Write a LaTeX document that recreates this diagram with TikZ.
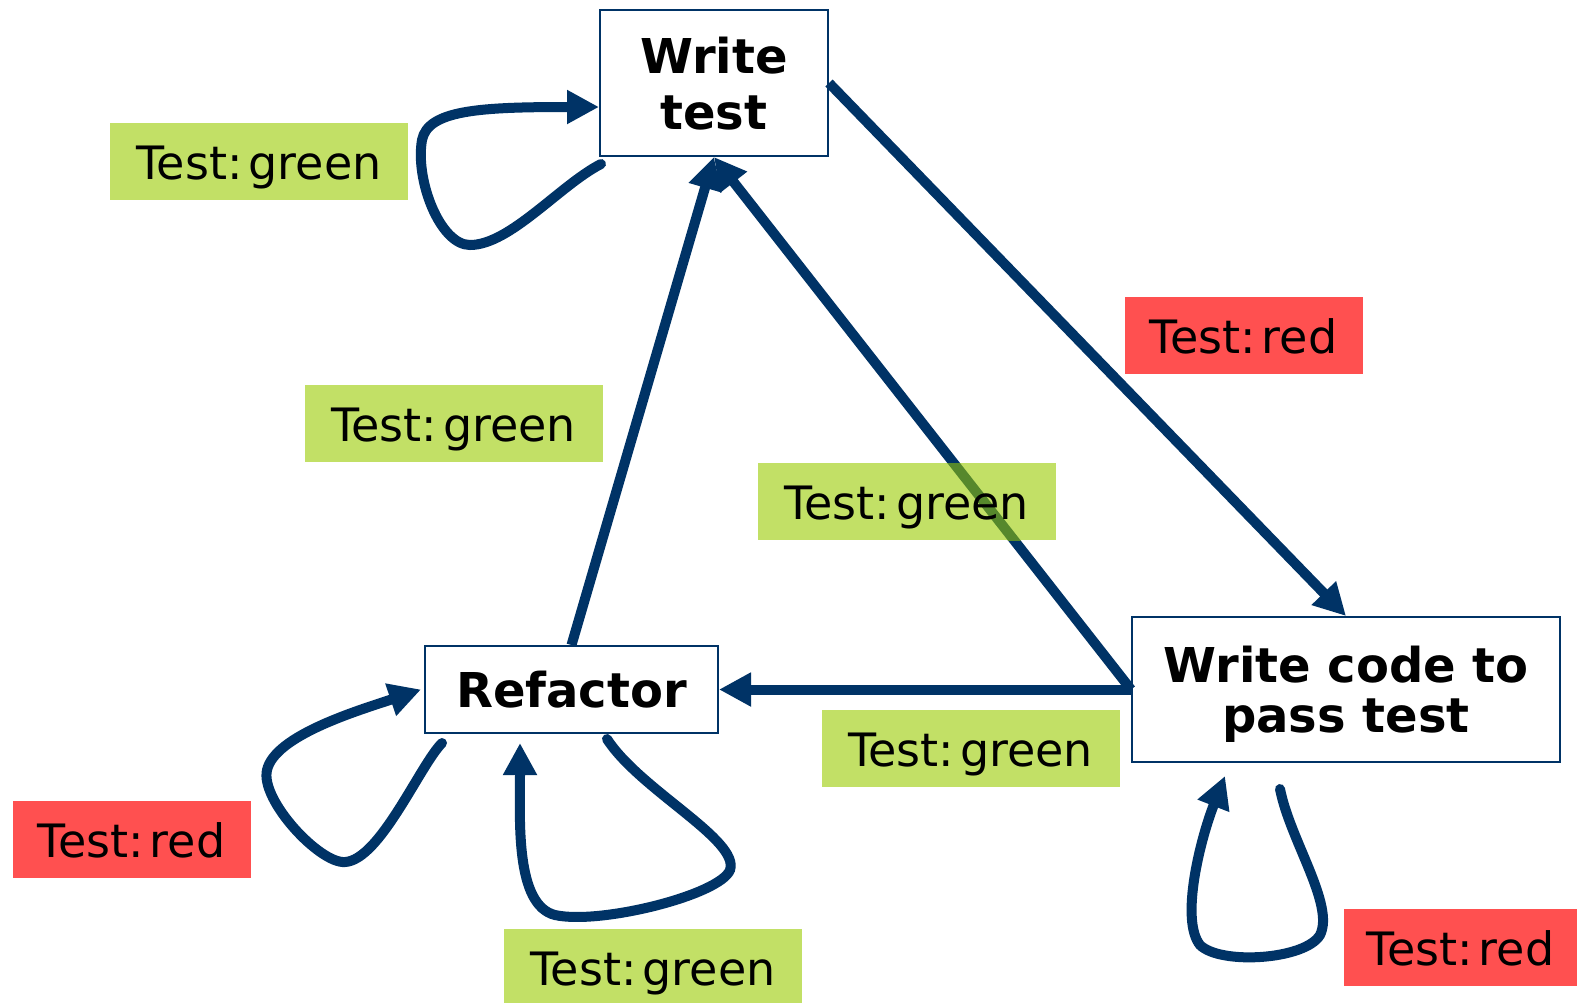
\documentclass[tikz,border=0pt]{standalone}
\usepackage{fontspec}
\setmainfont{DejaVu Sans}
\usetikzlibrary{arrows.meta,calc}
\definecolor{navy}{RGB}{0,51,102}
\definecolor{passgreen}{RGB}{194,224,102}
\definecolor{failred}{RGB}{255,80,80}
\definecolor{overlap}{RGB}{86,136,44}
\newcommand\testres[1]{Test:\kern3pt #1}

\begin{document}
\begin{tikzpicture}[x=0.5pt,y=-0.5pt,
  stage/.style={draw=navy, line width=1pt, fill=white, align=center, inner sep=0pt,
    text depth=0pt},
  stagefont/.style={font=\bfseries\fontsize{24}{#1}\selectfont},
  badge/.style={inner sep=0pt, minimum width=149pt, minimum height=38.5pt,
    text height=18.4pt, text depth=0pt,
    font=\fontsize{23}{28}\selectfont},
  green badge/.style={badge, fill=passgreen},
  red badge/.style={badge, fill=failred, minimum width=119pt},
  flow/.style={draw=navy, line width=5pt, -{Triangle[length=16pt,width=16pt]}},
  selfloop/.style={flow, line cap=round},
]
% page frame (pixel-like units, y grows downwards)
\clip (0,0) rectangle (1577,1002);
\fill[white] (0,0) rectangle (1577,1002);

% the three stages of the cycle
\node[stage, stagefont=28pt, minimum width=114pt, minimum height=73pt] (wt) at (714,83) {Write\\test};
\node[stage, stagefont=28pt, minimum width=146.5pt, minimum height=43.5pt] (rf) at (571.5,689.5) {Refactor};
\node[stage, stagefont=25pt, minimum width=214pt, minimum height=72.5pt] (wc) at (1346,689.5) {Write code to\\pass test};

% transitions between stages
\draw[flow] (wt.east) -- (wc.north);
\draw[flow] (wc.west) -- (wt.south);
\draw[flow] (rf.north) -- (wt.south);
\draw[flow] (wc.west) -- (rf.east);

% self loops
\draw[selfloop] ([shift={(2,7)}]wt.south west)
  .. controls (560,185) and (510,245) .. (470,245)
  .. controls (440,245) and (415,180) .. (422,140)
  .. controls (428,110) and (480,107) .. ([shift={(0,24)}]wt.west);
\draw[selfloop] ([shift={(18,9)}]rf.south west)
  .. controls (420,765) and (380,860) .. (345,862)
  .. controls (320,864) and (260,800) .. (267,770)
  .. controls (275,735) and (360,710) .. ([shift={(-3,0)}]rf.west);
\draw[selfloop] ([shift={(35.5,5)}]rf.south)
  .. controls (640,790) and (740,840) .. (730,870)
  .. controls (720,895) and (600,925) .. (555,915)
  .. controls (515,905) and (520,820) .. ([shift={(-51.5,9)}]rf.south);
\draw[selfloop] ([shift={(-66,26)}]wc.south)
  .. controls (1290,840) and (1335,905) .. (1320,935)
  .. controls (1305,960) and (1220,965) .. (1200,945)
  .. controls (1180,920) and (1200,840) .. ([shift={(-121,13)}]wc.south);

% test result badges
\node[green badge] (g1) at (259,161.5) {\testres{green}};
\node[red badge] (r1) at (1243.5,335.5) {\testres{red}};
\node[green badge] (g2) at (453.5,423.5) {\testres{green}};
\node[green badge, path picture={
    \draw[overlap, line width=5pt] (wc.west) -- (wt.south);}] (g3) at (906.5,501.5) {\testres{green}};
\node[green badge] (g4) at (970.5,748) {\testres{green}};
\node[red badge] (r2) at (131.5,839) {\testres{red}};
\node[green badge] (g5) at (653,967.5) {\testres{green}};
\node[red badge, minimum width=116.5pt] (r3) at (1460.5,947.5) {\testres{red}};
\end{tikzpicture}
\end{document}
